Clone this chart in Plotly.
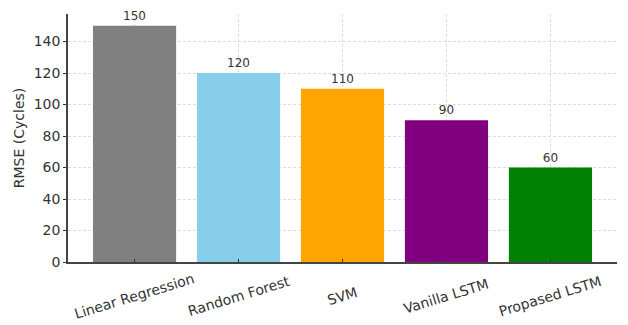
import plotly.graph_objects as go

models = ["Linear Regression", "Random Forest", "SVM", "Vanilla LSTM", "Propased LSTM"]
rmse = [150, 120, 110, 90, 60]
bar_colors = ["#808080", "#87CEEB", "#FFA500", "#800080", "#008000"]
y_ticks = [0, 20, 40, 60, 80, 100, 120, 140]

font_family = "DejaVu Sans, sans-serif"
text_color = "#333333"
x_pos = list(range(len(models)))

fig = go.Figure()
fig.add_trace(go.Bar(
    x=x_pos,
    y=rmse,
    width=0.8,
    marker=dict(color=bar_colors, line=dict(width=0)),
    text=[str(v) for v in rmse],
    textposition="outside",
    textfont=dict(family=font_family, size=12, color=text_color),
    cliponaxis=False,
    showlegend=False,
))

# Category labels, rotated about their centres beneath each tick
for xi, name in zip(x_pos, models):
    fig.add_annotation(
        x=xi, xref="x",
        y=0, yref="paper",
        yshift=-34,
        text=name,
        textangle=-17,
        showarrow=False,
        xanchor="center", yanchor="middle",
        font=dict(family=font_family, size=14, color=text_color),
    )

grid = dict(showgrid=True, gridcolor="#dcdcdc", griddash="3px,2px", gridwidth=1)

fig.update_layout(
    width=628,
    height=325,
    margin=dict(l=68, r=11, t=14, b=63),
    paper_bgcolor="white",
    plot_bgcolor="white",
    font=dict(family=font_family, size=14, color=text_color),
    xaxis=dict(
        range=[-0.64, 4.64],
        tickmode="array",
        tickvals=x_pos,
        showticklabels=False,
        ticks="inside",
        ticklen=3,
        tickcolor=text_color,
        showline=True,
        linecolor="#444444",
        linewidth=1.5,
        zeroline=False,
        **grid,
    ),
    yaxis=dict(
        range=[0, 157.5],
        tickmode="array",
        tickvals=y_ticks,
        tickfont=dict(size=14, color=text_color),
        ticks="outside",
        ticklen=3,
        tickcolor=text_color,
        showline=True,
        linecolor="#444444",
        linewidth=1.5,
        zeroline=False,
        title=dict(text="RMSE (Cycles)", font=dict(size=14, color=text_color), standoff=6),
        **grid,
    ),
)

fig.write_html("out.html")
